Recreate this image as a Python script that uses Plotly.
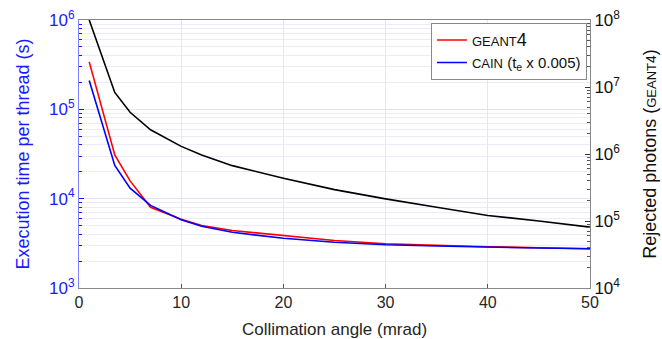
import plotly.graph_objects as go

angle = [1, 3.5, 5, 7, 10, 12, 15, 20, 25, 30, 35, 40, 45, 50]
geant4_time = [3.4e5, 3.08e4, 1.58e4, 8.0e3, 5.9e3, 5.0e3, 4.4e3, 3.9e3, 3.4e3, 3.13e3, 3.0e3, 2.9e3, 2.82e3, 2.75e3]
cain_time = [2.1e5, 2.35e4, 1.31e4, 8.4e3, 5.8e3, 4.9e3, 4.2e3, 3.6e3, 3.25e3, 3.05e3, 2.95e3, 2.85e3, 2.8e3, 2.75e3]
rejected = [1.0e8, 8.3e6, 4.2e6, 2.3e6, 1.3e6, 9.7e5, 6.7e5, 4.35e5, 2.94e5, 2.14e5, 1.6e5, 1.21e5, 1.0e5, 8.1e4]

left_ticks = [1e3, 1e4, 1e5, 1e6]
left_text = ["10<sup>3</sup>", "10<sup>4</sup>", "10<sup>5</sup>", "10<sup>6</sup>"]
right_ticks = [1e4, 1e5, 1e6, 1e7, 1e8]
right_text = ["10<sup>4</sup>", "10<sup>5</sup>", "10<sup>6</sup>", "10<sup>7</sup>", "10<sup>8</sup>"]
x_ticks = [0, 10, 20, 30, 40, 50]

FONT = "Liberation Sans, Arial, sans-serif"
BLUE = "#1a1aff"

def minors(lo, hi):
    vals = []
    for e in range(lo, hi):
        for d in range(2, 10):
            vals.append(d * 10 ** e)
    return vals

fig = go.Figure()
fig.add_trace(go.Scatter(x=angle, y=rejected, mode="lines", yaxis="y2",
                         line=dict(color="black", width=1.6), showlegend=False))
fig.add_trace(go.Scatter(x=angle, y=geant4_time, mode="lines",
                         name="<span style='font-size:13px'>GEANT</span><span style='font-size:18px'>4</span>",
                         line=dict(color="#ff0000", width=1.6)))
fig.add_trace(go.Scatter(x=angle, y=cain_time, mode="lines",
                         name="<span style='font-size:13px'>CAIN</span> (t<sub>e</sub> x 0.005)",
                         line=dict(color="#0000ff", width=1.6)))

fig.update_layout(
    width=662, height=339,
    margin=dict(l=79, r=72, t=20, b=51, autoexpand=False),
    paper_bgcolor="white", plot_bgcolor="white",
    font=dict(family=FONT, size=14, color="#262626"),
    xaxis=dict(range=[0, 50], tickvals=x_ticks, showgrid=True, gridcolor="#e6e6ee",
               gridwidth=1, ticks="inside", ticklen=4, tickcolor="#555",
               showline=True, linecolor="#888", mirror=True, automargin=False,
               tickfont=dict(size=16, color="#262626"),
               title=dict(text="Collimation angle (mrad)", font=dict(size=17, color="#262626"),
                          standoff=12),
               zeroline=False),
    yaxis=dict(type="log", range=[3, 6], tickvals=left_ticks, ticktext=left_text,
               tickfont=dict(size=17, color=BLUE), automargin=False,
               showgrid=True, gridcolor="#e3e3f0", ticks="inside", ticklen=5, tickcolor=BLUE,
               showline=True, linecolor="#7f7fff",
               minor=dict(tickvals=minors(3, 6), showgrid=True, gridcolor="#ececf8",
                          ticks="inside", ticklen=3, tickcolor=BLUE),
               title=dict(text="Execution time per thread (s)", font=dict(size=18, color=BLUE),
                          standoff=14),
               zeroline=False),
    yaxis2=dict(type="log", range=[4, 8], overlaying="y", side="right",
                tickvals=right_ticks, ticktext=right_text, automargin=False,
                tickfont=dict(size=17, color="#111"),
                showgrid=False, ticks="inside", ticklen=5, tickcolor="#333",
                showline=True, linecolor="#888",
                minor=dict(tickvals=minors(4, 8), ticks="inside", ticklen=3, tickcolor="#555"),
                title=dict(text="Rejected photons (<span style='font-size:13px'>GEANT</span><span style='font-size:14px'>4</span>)",
                           font=dict(size=18, color="#111"), standoff=24),
                zeroline=False),
    legend=dict(x=0.994, y=0.99, xanchor="right", yanchor="top",
                bgcolor="white", bordercolor="#888", borderwidth=1,
                font=dict(size=15, color="#111"), itemwidth=30,
                tracegroupgap=0),
)

fig.write_html("out.html")
